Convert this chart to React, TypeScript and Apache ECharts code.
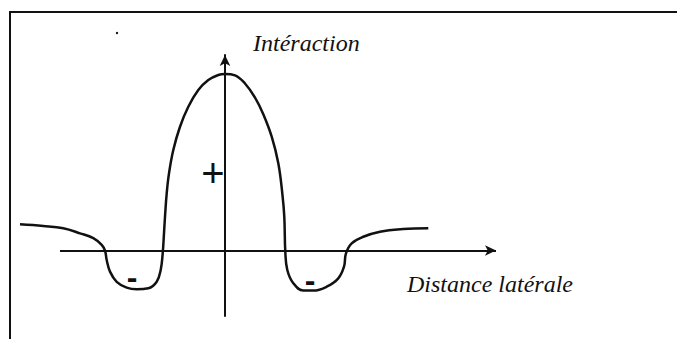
import React, { useEffect, useRef } from "react";
import * as echarts from "echarts";

// Lateral distance (arbitrary units, 0 = centre) and interaction strength
const distance = [-2.05, -1.817, -1.617, -1.45, -1.317, -1.233, -1.2, -1.183, -1.15, -1.083, -0.983, -0.883, -0.767, -0.683, -0.643, -0.623, -0.61, -0.6, -0.583, -0.56, -0.517, -0.45, -0.367, -0.267, -0.167, -0.067, 0, 0.1, 0.2, 0.3, 0.383, 0.467, 0.533, 0.573, 0.593, 0.603, 0.623, 0.683, 0.783, 0.883, 1.017, 1.133, 1.19, 1.21, 1.267, 1.383, 1.55, 1.783, 2.033];
const interaction = [0.16, 0.15, 0.136, 0.105, 0.075, 0.034, -0.001, -0.058, -0.129, -0.191, -0.227, -0.237, -0.231, -0.191, -0.119, -0.017, 0.105, 0.206, 0.349, 0.471, 0.614, 0.756, 0.878, 0.98, 1.041, 1.072, 1.078, 1.07, 1.02, 0.934, 0.832, 0.695, 0.533, 0.349, 0.206, -0.007, -0.119, -0.2, -0.245, -0.245, -0.221, -0.17, -0.099, -0.017, 0.044, 0.084, 0.115, 0.131, 0.136];

// Horizontal axis extent (drawn through the chart's scales)
const axisStart = -1.65;
const axisEnd = 2.71;

const yAxisName = "Intéraction";
const xAxisName = "Distance latérale";
const positiveSign = "+";
const negativeSign = "-";

export default function App() {
  const ref = useRef<HTMLDivElement>(null);
  useEffect(() => {
    if (!ref.current) return;
    const chart = echarts.init(ref.current, undefined, { renderer: "svg" });
    const ink = "#111";
    const serif = "'Liberation Serif', 'DejaVu Serif', serif";
    const sans = "'Liberation Sans', 'DejaVu Sans', sans-serif";
    chart.setOption({
      animation: false,
      backgroundColor: "#fff",
      grid: { left: 15, right: 177, top: 55, bottom: 23, containLabel: false },
      xAxis: {
        type: "value",
        min: -2.1,
        max: 2.75,
        axisLine: { show: false },
        axisTick: { show: false },
        axisLabel: { show: false },
        splitLine: { show: false },
      },
      yAxis: {
        type: "value",
        min: -0.4,
        max: 1.194,
        axisLine: { onZero: true, symbol: ["none", "arrow"], symbolSize: [8, 11], lineStyle: { color: ink, width: 2 } },
        axisTick: { show: false },
        axisLabel: { show: false },
        splitLine: { show: false },
      },
      series: [
        {
          type: "line",
          data: distance.map((d, i) => [d, interaction[i]]),
          smooth: 0.4,
          clip: false,
          showSymbol: false,
          lineStyle: { color: ink, width: 2.5 },
          emphasis: { disabled: true },
          markLine: {
            silent: true,
            symbol: ["none", "arrow"],
            symbolSize: [8, 11],
            label: { show: false },
            lineStyle: { color: ink, width: 2, type: "solid" },
            emphasis: { disabled: true },
            data: [[{ coord: [axisStart, 0] }, { coord: [axisEnd, 0] }]],
          },
        },
      ],
      graphic: [
        { type: "line", shape: { x1: 9, y1: 12, x2: 677, y2: 12 }, style: { stroke: ink, lineWidth: 2 } },
        { type: "line", shape: { x1: 10, y1: 12, x2: 10, y2: 339 }, style: { stroke: ink, lineWidth: 2 } },
        { type: "circle", shape: { cx: 117, cy: 33, r: 1.2 }, style: { fill: ink } },
        {
          type: "text",
          x: 253,
          y: 43,
          style: { text: yAxisName, fill: ink, font: `italic 24px ${serif}`, align: "left", verticalAlign: "middle" },
        },
        {
          type: "text",
          x: 407,
          y: 284,
          style: { text: xAxisName, fill: ink, font: `italic 24px ${serif}`, align: "left", verticalAlign: "middle" },
        },
        {
          type: "text",
          x: 213,
          y: 173,
          style: { text: positiveSign, fill: ink, font: `40px ${sans}`, align: "center", verticalAlign: "middle" },
        },
        {
          type: "text",
          x: 132,
          y: 277,
          style: { text: negativeSign, fill: ink, font: `bold 32px ${sans}`, align: "center", verticalAlign: "middle" },
        },
        {
          type: "text",
          x: 310,
          y: 280,
          style: { text: negativeSign, fill: ink, font: `bold 32px ${sans}`, align: "center", verticalAlign: "middle" },
        },
      ],
    });
    return () => chart.dispose();
  }, []);
  return <div ref={ref} style={{ position: "fixed", left: 0, top: 0, width: 677, height: 339 }} />;
}
